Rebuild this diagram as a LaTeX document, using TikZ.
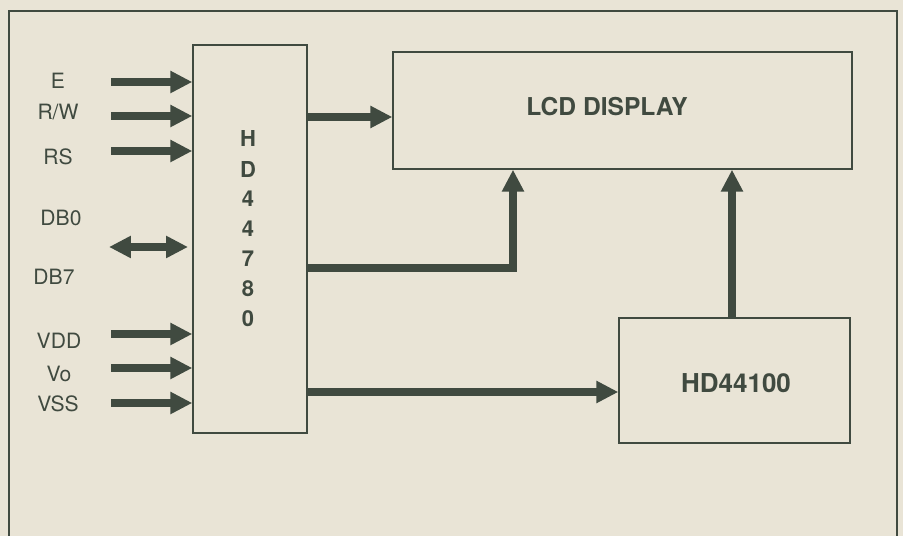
\documentclass[tikz,border=0pt]{standalone}
\usepackage{fontspec}
\setmainfont{TeX Gyre Heros}
\usepackage{tikz}
\usetikzlibrary{arrows.meta,positioning}
\definecolor{paper}{RGB}{233,228,214}
\definecolor{ink}{RGB}{64,74,64}
\tikzset{
  >={Triangle[length=4.4mm,width=4.2mm]},
  block/.style={draw=ink,line width=0.8pt,inner sep=0pt,fill=paper},
  flow/.style={#1,line width=1.5mm,draw=ink},
  flow/.default=->,
  tag/.style={font=\fontsize{12}{14}\selectfont,text=ink},
  chip/.style={font=\fontsize{12.5}{14}\selectfont\bfseries,text=ink},
  title/.style={font=\fontsize{#1}{16}\selectfont\bfseries,text=ink},
  title/.default=14,
}
\begin{document}
\begin{tikzpicture}[x=0.02cm,y=-0.02cm]
  \useasboundingbox (0,0) rectangle (903,536);
  \fill[paper] (0,0) rectangle (903,536);
  \draw[ink,line width=1pt] (9,560) -- (9,11) -- (897,11) -- (897,560);
  % boxes
  \node[block,minimum width=2.28cm,minimum height=7.76cm] (ctl) at (250,239) {};
  \node[block,minimum width=9.18cm,minimum height=2.34cm] (lcd) at (622.5,110.5) {};
  \node[block,minimum width=4.62cm,minimum height=2.5cm] (drv) at (734.5,380.5) {};
  \foreach \c [count=\i] in {H,D,4,4,7,8,0}
    \node[chip] (ch\i) at (248,109+30*\i) {\c};
  \node[title] (lcdname) at (607,107) {LCD DISPLAY};
  \node[title=14.8] (drvname) at (736,383) {HD44100};
  % inputs
  \node[tag] (tE) at (58,81) {E};
  \node[tag] (tRW) at (58,112) {R/W};
  \node[tag] (tRS) at (58,157) {RS};
  \node[tag] (tDB0) at (61,218) {DB0};
  \node[tag] (tDB7) at (54,277) {DB7};
  \node[tag] (tVDD) at (59,341) {VDD};
  \node[tag] (tVo) at (59,374) {Vo};
  \node[tag] (tVSS) at (58,404) {VSS};
  \foreach \n/\y in {E/82,RW/116,RS/151,VDD/334,Vo/368,VSS/403} {
    \coordinate (in\n) at (111,\y);
    \draw[flow] (in\n) -- (in\n -| ctl.west);
  }
  \coordinate (inDB) at (109,247);
  \draw[flow=<->] (inDB) -- (188,247);
  % outputs
  \draw[flow] (ctl.east |- 0,117) -- (lcd.west |- 0,117);
  \draw[flow] (ctl.east |- 0,268) -| (lcd.south -| 513,0);
  \draw[flow] (ctl.east |- 0,392) -- (drv.west |- 0,392);
  \draw[flow] (drv.north -| 732,0) -- (lcd.south -| 732,0);
\end{tikzpicture}
\end{document}
